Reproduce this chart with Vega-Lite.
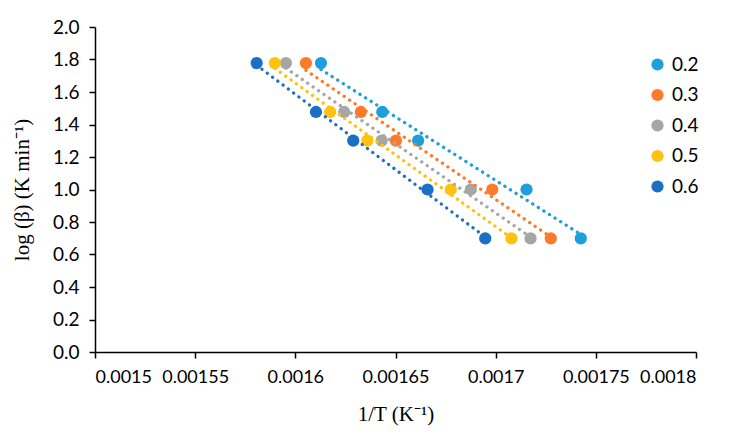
{
  "$schema": "https://vega.github.io/schema/vega-lite/v6.json",
  "autosize": {"type": "none"},
  "padding": {"left": 95, "top": 27, "right": 41, "bottom": 84},
  "width": 601,
  "height": 325,
  "background": "white",
  "config": {
    "view": {"stroke": null},
    "axis": {
      "grid": false,
      "domainColor": "#000000",
      "domainWidth": 1.5,
      "tickColor": "#000000",
      "tickWidth": 1.5,
      "tickSize": 6,
      "labelFont": "Lato",
      "labelFontSize": 18,
      "labelColor": "#000000",
      "titleFont": "Liberation Serif",
      "titleFontSize": 21,
      "titleFontWeight": "normal",
      "titleColor": "#000000"
    },
    "legend": {
      "labelFont": "Lato",
      "labelFontSize": 19,
      "labelColor": "#000000"
    }
  },
  "data": {
    "values": [
      {"alpha": "0.2", "x": 0.0016128, "y": 1.778},
      {"alpha": "0.2", "x": 0.0016434, "y": 1.477},
      {"alpha": "0.2", "x": 0.0016613, "y": 1.301},
      {"alpha": "0.2", "x": 0.0017154, "y": 1.0},
      {"alpha": "0.2", "x": 0.0017425, "y": 0.699},
      {"alpha": "0.3", "x": 0.0016053, "y": 1.778},
      {"alpha": "0.3", "x": 0.0016327, "y": 1.477},
      {"alpha": "0.3", "x": 0.0016502, "y": 1.301},
      {"alpha": "0.3", "x": 0.0016983, "y": 1.0},
      {"alpha": "0.3", "x": 0.0017275, "y": 0.699},
      {"alpha": "0.4", "x": 0.0015953, "y": 1.778},
      {"alpha": "0.4", "x": 0.0016244, "y": 1.477},
      {"alpha": "0.4", "x": 0.0016431, "y": 1.301},
      {"alpha": "0.4", "x": 0.0016876, "y": 1.0},
      {"alpha": "0.4", "x": 0.0017174, "y": 0.699},
      {"alpha": "0.5", "x": 0.0015898, "y": 1.778},
      {"alpha": "0.5", "x": 0.0016174, "y": 1.477},
      {"alpha": "0.5", "x": 0.0016359, "y": 1.301},
      {"alpha": "0.5", "x": 0.0016776, "y": 1.0},
      {"alpha": "0.5", "x": 0.0017079, "y": 0.699},
      {"alpha": "0.6", "x": 0.0015807, "y": 1.778},
      {"alpha": "0.6", "x": 0.0016103, "y": 1.477},
      {"alpha": "0.6", "x": 0.0016289, "y": 1.301},
      {"alpha": "0.6", "x": 0.0016660, "y": 1.0},
      {"alpha": "0.6", "x": 0.0016948, "y": 0.699}
    ]
  },
  "encoding": {
    "x": {
      "field": "x",
      "type": "quantitative",
      "scale": {"domain": [0.0015, 0.0018], "nice": false, "zero": false},
      "axis": {
        "values": [0.0015, 0.00155, 0.0016, 0.00165, 0.0017, 0.00175, 0.0018],
        "format": "~r",
        "labelPadding": 10,
        "title": "1/T (K⁻¹)",
        "titleBaseline": "middle",
        "titleY": 62
      }
    },
    "y": {
      "field": "y",
      "type": "quantitative",
      "scale": {"domain": [0, 2], "nice": false},
      "axis": {
        "values": [0, 0.2, 0.4, 0.6, 0.8, 1.0, 1.2, 1.4, 1.6, 1.8, 2.0],
        "format": ".1f",
        "labelPadding": 10,
        "labelFontSize": 19,
        "title": "log (β) (K min⁻¹)",
        "titleBaseline": "middle",
        "titleX": -73
      }
    },
    "color": {
      "field": "alpha",
      "type": "nominal",
      "scale": {
        "domain": ["0.2", "0.3", "0.4", "0.5", "0.6"],
        "range": ["#1F9EDC", "#FC7B2A", "#A6A6A6", "#FFC20E", "#1B6FC5"]
      }
    }
  },
  "layer": [
    {
      "mark": {"type": "point", "filled": true, "shape": "circle", "size": 150, "opacity": 1},
      "encoding": {
        "color": {
          "field": "alpha",
          "type": "nominal",
          "legend": {
            "orient": "none",
            "legendX": 553,
            "legendY": 28,
            "title": null,
            "symbolType": "circle",
            "symbolSize": 150,
            "symbolStrokeWidth": 0,
            "symbolOpacity": 1,
            "rowPadding": 10.5,
            "labelOffset": 5,
            "padding": 0
          }
        }
      }
    },
    {
      "transform": [{"regression": "y", "on": "x", "groupby": ["alpha"], "method": "linear"}],
      "mark": {"type": "line", "strokeDash": [0.1, 6.5], "strokeCap": "round", "strokeWidth": 3.3},
      "encoding": {
        "color": {"field": "alpha", "type": "nominal", "legend": null}
      }
    }
  ]
}
